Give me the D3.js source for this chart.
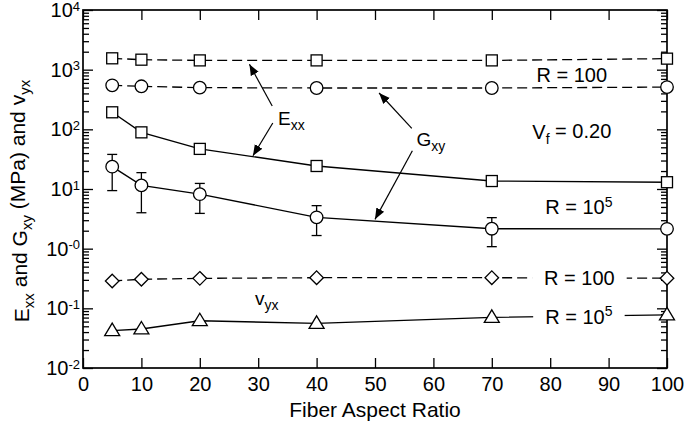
<!DOCTYPE html>
<html>
<head>
<meta charset="utf-8">
<script src="https://cdn.jsdelivr.net/npm/d3@7"></script>
<style>
  body { margin: 0; background: #fff; }
  text { font-family: "Liberation Sans", Arial, Helvetica, sans-serif; fill: #000; }
</style>
</head>
<body>
<div id="chart"></div>
<script>
// data
var aspect = [5, 10, 20, 40, 70, 100];
var exxR100 = [1550, 1470, 1430, 1430, 1430, 1530];
var gxyR100 = [546, 526, 500, 493, 493, 510];
var exxR1e5 = [193, 89, 47, 24.3, 13.6, 13.0];
var gxyR1e5 = [23.7, 11.5, 8.2, 3.35, 2.16, 2.15];
var gxyLow = [9.4, 4.0, 3.9, 1.66, 1.08, null];
var gxyHigh = [38, 18.8, 12.4, 5.26, 3.31, null];
var nuR100 = [0.287, 0.307, 0.318, 0.326, 0.326, 0.32];
var nuR1e5 = [0.0423, 0.0451, 0.062, 0.056, 0.0706, 0.0776];

var xTicks = [0, 10, 20, 30, 40, 50, 60, 70, 80, 90, 100];
var yExp = [-2, -1, 0, 1, 2, 3, 4];
var yExpLabel = ["-2", "-1", "-0", "1", "2", "3", "4"];

var svgWidth = 684;
var svgHeight = 425;
var margin = { top: 10, right: 17, bottom: 57, left: 83 };
var width = svgWidth - margin.left - margin.right;
var height = svgHeight - margin.top - margin.bottom;

var svg = d3.select("#chart").append("svg")
  .attr("width", svgWidth)
  .attr("height", svgHeight);

var defs = svg.append("defs");
defs.append("marker")
  .attr("id", "arrow")
  .attr("viewBox", "0 0 10 10")
  .attr("refX", 10).attr("refY", 5)
  .attr("markerWidth", 11).attr("markerHeight", 11)
  .attr("markerUnits", "userSpaceOnUse")
  .attr("orient", "auto")
  .append("path")
  .attr("d", "M0,1 L10,5 L0,9 Z")
  .attr("fill", "#000");

var chartGroup = svg.append("g")
  .attr("transform", `translate(${margin.left}, ${margin.top})`);

var x = d3.scaleLinear().domain([0, 100]).range([0, width]);
var y = d3.scaleLog().domain([1e-2, 1e4]).range([height, 0]);

var majors = yExp.map(e => Math.pow(10, e));
var minors = y.ticks().filter(v => Math.abs(Math.log10(v) - Math.round(Math.log10(v))) > 1e-6);

function noDomain(g) { g.select(".domain").remove(); }

// bottom axis (ticks inward) with labels
var xAxis = chartGroup.append("g")
  .attr("transform", `translate(0, ${height})`)
  .call(d3.axisBottom(x).tickValues(xTicks).tickSizeInner(-10).tickSizeOuter(0))
  .call(noDomain);
xAxis.selectAll("text")
  .attr("y", 23).attr("dy", 0)
  .style("font-size", "20px");

// top axis
chartGroup.append("g")
  .call(d3.axisTop(x).tickValues(xTicks).tickSizeInner(-10).tickSizeOuter(0).tickFormat(""))
  .call(noDomain);

// left axis majors and minors
var yAxis = chartGroup.append("g")
  .call(d3.axisLeft(y).tickValues(majors).tickSizeInner(-10).tickSizeOuter(0).tickFormat(""))
  .call(noDomain);
chartGroup.append("g")
  .call(d3.axisLeft(y).tickValues(minors).tickSizeInner(-6).tickSizeOuter(0).tickFormat(""))
  .call(noDomain);

// right axis
chartGroup.append("g")
  .attr("transform", `translate(${width}, 0)`)
  .call(d3.axisRight(y).tickValues(majors).tickSizeInner(-10).tickSizeOuter(0).tickFormat(""))
  .call(noDomain);
chartGroup.append("g")
  .attr("transform", `translate(${width}, 0)`)
  .call(d3.axisRight(y).tickValues(minors).tickSizeInner(-6).tickSizeOuter(0).tickFormat(""))
  .call(noDomain);

chartGroup.selectAll(".tick line").attr("stroke", "#000").attr("stroke-width", 1.3);

// y tick labels: 10 with superscript exponent
yAxis.selectAll(".tick").each(function (d) {
  var t = d3.select(this).select("text")
    .attr("text-anchor", "end")
    .attr("x", -3)
    .attr("dy", "0.33em")
    .style("font-size", "20px");
  t.append("tspan").text("10");
  t.append("tspan").attr("dy", "-0.5em").style("font-size", "13px")
    .text(yExpLabel[yExp.indexOf(Math.round(Math.log10(d)))]);
});

// frame
chartGroup.append("rect")
  .attr("width", width).attr("height", height)
  .attr("fill", "none").attr("stroke", "#000").attr("stroke-width", 1.7);

var line = d3.line()
  .x(d => x(d[0]))
  .y(d => y(d[1]));

function series(vals) { return aspect.map((a, i) => [a, vals[i]]); }

var dashed = [exxR100, gxyR100, nuR100];
var solid = [exxR1e5, gxyR1e5, nuR1e5];

dashed.forEach(function (vals) {
  chartGroup.append("path").datum(series(vals))
    .attr("d", line).attr("fill", "none").attr("stroke", "#000")
    .attr("stroke-width", 1.3).attr("stroke-dasharray", "10,5");
});
solid.forEach(function (vals) {
  chartGroup.append("path").datum(series(vals))
    .attr("d", line).attr("fill", "none").attr("stroke", "#000")
    .attr("stroke-width", 1.4);
});

// error bars on G_xy R = 10^5
var errs = aspect.map((a, i) => ({ a: a, lo: gxyLow[i], hi: gxyHigh[i] })).filter(d => d.lo != null);
var errG = chartGroup.append("g").attr("stroke", "#000").attr("stroke-width", 1.3);
errG.selectAll(".ebar").data(errs).enter().append("line")
  .attr("x1", d => x(d.a)).attr("x2", d => x(d.a))
  .attr("y1", d => y(d.lo)).attr("y2", d => y(d.hi));
errG.selectAll(".ecapHi").data(errs).enter().append("line")
  .attr("x1", d => x(d.a) - 5).attr("x2", d => x(d.a) + 5)
  .attr("y1", d => y(d.hi)).attr("y2", d => y(d.hi));
errG.selectAll(".ecapLo").data(errs).enter().append("line")
  .attr("x1", d => x(d.a) - 5).attr("x2", d => x(d.a) + 5)
  .attr("y1", d => y(d.lo)).attr("y2", d => y(d.lo));

// in-plot labels (white boxes cut the lines)
function label(xv, yv, main, sup, box) {
  var g = chartGroup.append("g");
  var t = g.append("text")
    .attr("x", x(xv)).attr("y", y(yv))
    .attr("text-anchor", "middle")
    .style("font-size", "20px");
  t.append("tspan").text(main);
  if (sup) t.append("tspan").attr("dy", "-0.55em").style("font-size", "14px").text(sup);
  if (box) {
    var b = t.node().getBBox();
    g.insert("rect", "text")
      .attr("x", b.x - 12).attr("y", b.y).attr("width", b.width + 24).attr("height", b.height)
      .attr("fill", "#fff");
  }
}

label(83.7, 621, "R = 100", null, false);
label(84.9, 3.77, "R = 10", "5", false);
label(85.0, 0.246, "R = 100", null, true);
label(84.9, 0.0547, "R = 10", "5", true);

// V_f label
var vf = chartGroup.append("text")
  .attr("x", x(83.7)).attr("y", y(68)).attr("text-anchor", "middle")
  .style("font-size", "20px");
vf.append("tspan").text("V");
vf.append("tspan").attr("dy", "0.3em").style("font-size", "14px").text("f");
vf.append("tspan").attr("dy", "-0.3em").text(" = 0.20");

// markers
var sq = 11;
function squares(vals) {
  chartGroup.append("g").selectAll("rect").data(series(vals)).enter().append("rect")
    .attr("x", d => x(d[0]) - sq / 2).attr("y", d => y(d[1]) - sq / 2)
    .attr("width", sq).attr("height", sq)
    .attr("fill", "#fff").attr("stroke", "#000").attr("stroke-width", 1.3);
}
function circles(vals) {
  chartGroup.append("g").selectAll("circle").data(series(vals)).enter().append("circle")
    .attr("cx", d => x(d[0])).attr("cy", d => y(d[1])).attr("r", 6.3)
    .attr("fill", "#fff").attr("stroke", "#000").attr("stroke-width", 1.3);
}
function diamonds(vals) {
  chartGroup.append("g").selectAll("path").data(series(vals)).enter().append("path")
    .attr("d", d => { var cx = x(d[0]), cy = y(d[1]), r = 6.8; return `M${cx},${cy - r}L${cx + r},${cy}L${cx},${cy + r}L${cx - r},${cy}Z`; })
    .attr("fill", "#fff").attr("stroke", "#000").attr("stroke-width", 1.3);
}
function triangles(vals) {
  chartGroup.append("g").selectAll("path").data(series(vals)).enter().append("path")
    .attr("d", d => { var cx = x(d[0]), cy = y(d[1]); return `M${cx},${cy - 7.5}L${cx + 7.5},${cy + 5}L${cx - 7.5},${cy + 5}Z`; })
    .attr("fill", "#fff").attr("stroke", "#000").attr("stroke-width", 1.3);
}
squares(exxR100);
circles(gxyR100);
squares(exxR1e5);
circles(gxyR1e5);
diamonds(nuR100);
triangles(nuR1e5);

// annotation labels with arrows
function subLabel(xv, yv, main, sub) {
  var t = chartGroup.append("text")
    .attr("x", x(xv)).attr("y", y(yv)).style("font-size", "19px");
  t.append("tspan").text(main);
  t.append("tspan").attr("dy", "0.35em").style("font-size", "14px").text(sub);
}
subLabel(33.4, 118, "E", "xx");
subLabel(57.1, 52.6, "G", "xy");
subLabel(29.45, 0.114, "v", "yx");

var arrows = [
  [[32.4, 246], [28.5, 1230]],
  [[32.5, 128], [29.1, 36]],
  [[56.3, 104], [50.7, 406]],
  [[56.4, 43.9], [50.0, 3.1]]
];
chartGroup.append("g").selectAll("line").data(arrows).enter().append("line")
  .attr("x1", d => x(d[0][0])).attr("y1", d => y(d[0][1]))
  .attr("x2", d => x(d[1][0])).attr("y2", d => y(d[1][1]))
  .attr("stroke", "#000").attr("stroke-width", 1.2)
  .attr("marker-end", "url(#arrow)");

// axis titles
svg.append("text")
  .attr("x", margin.left + width / 2).attr("y", 417)
  .attr("text-anchor", "middle").style("font-size", "21px")
  .text("Fiber Aspect Ratio");

var yt = svg.append("text")
  .attr("transform", "translate(29, 201) rotate(-90)")
  .attr("text-anchor", "middle").style("font-size", "21px");
yt.append("tspan").text("E");
yt.append("tspan").attr("dy", "0.3em").style("font-size", "15px").text("xx");
yt.append("tspan").attr("dy", "-0.3em").text(" and G");
yt.append("tspan").attr("dy", "0.3em").style("font-size", "15px").text("xy");
yt.append("tspan").attr("dy", "-0.3em").text(" (MPa) and v");
yt.append("tspan").attr("dy", "0.3em").style("font-size", "15px").text("yx");
</script>
</body>
</html>
